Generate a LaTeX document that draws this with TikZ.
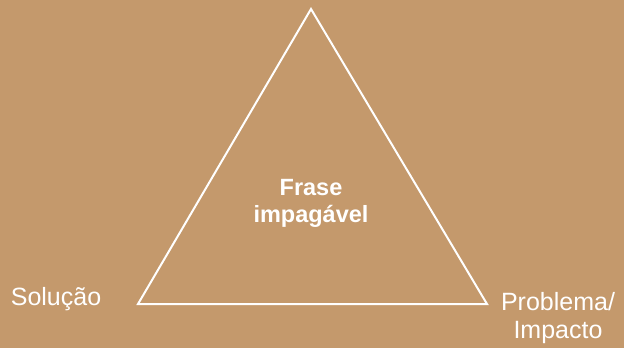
\documentclass[tikz,border=0pt]{standalone}
\usepackage{fontspec}
\setmainfont{Liberation Sans}
\definecolor{bgtan}{RGB}{196,153,108}
\begin{document}
\begin{tikzpicture}[x=1pt,y=-1pt,
  lbl/.style={text=white,font=\fontsize{25}{28}\selectfont,inner sep=0pt,align=center},
  ctr/.style={text=white,font=\bfseries\fontsize{23.5}{27}\selectfont,inner sep=0pt,align=center}]
\fill[bgtan] (0,0) rectangle (624,348);
\useasboundingbox (0,0) rectangle (624,348);
\coordinate (A) at (311,9);
\coordinate (B) at (138,304);
\coordinate (C) at (487,304);
\draw[white,line width=2pt,line join=miter] (A) -- (B) -- (C) -- cycle;
\node[ctr,anchor=base] (mid) at (311,222) {Frase\\impagável};
\node[lbl,anchor=base] (sol) at (56,305) {Solução};
\node[lbl,anchor=base] (prob) at (558,338) {Problema/\\Impacto};
\end{tikzpicture}
\end{document}
